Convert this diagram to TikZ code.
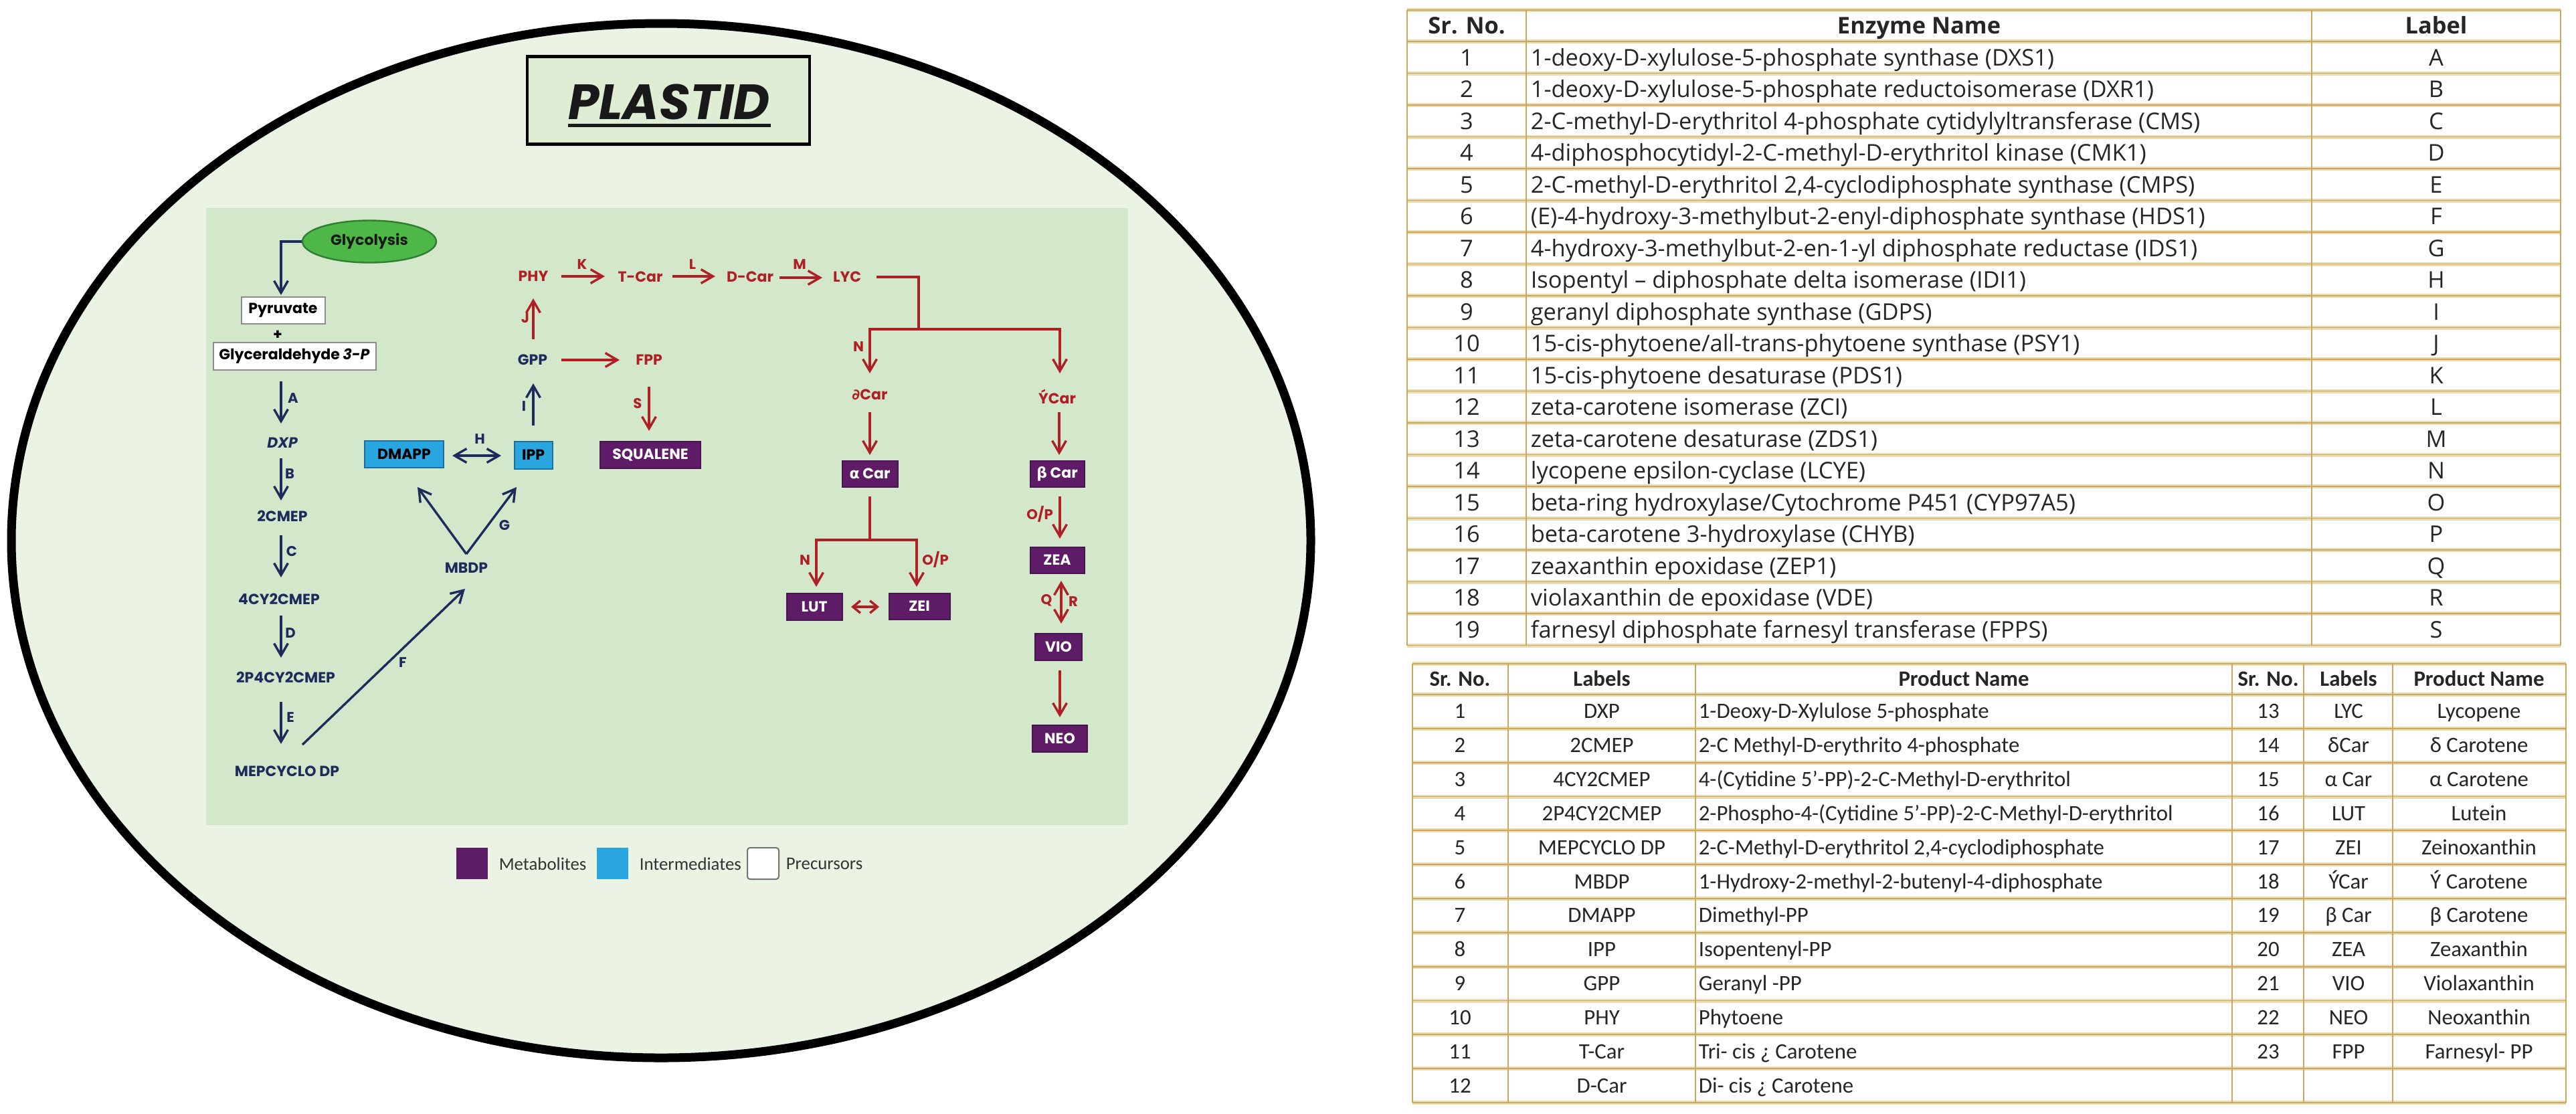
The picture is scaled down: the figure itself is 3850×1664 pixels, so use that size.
\documentclass[tikz,border=0pt]{standalone}
\usepackage{fontspec}
\usepackage{graphicx}
\setmainfont{Carlito}
\newfontfamily\gothic{Poppins}
\newfontfamily\grk{DejaVu Sans}
\newfontfamily\osans{Open Sans}
\usetikzlibrary{arrows.meta,calc,shapes.geometric}
\definecolor{navy}{HTML}{1F2B5C}
\definecolor{dred}{HTML}{B01E26}
\definecolor{purp}{HTML}{5E1C67}
\definecolor{purpd}{HTML}{4A1452}
\definecolor{skyb}{HTML}{29A6DF}
\definecolor{skybd}{HTML}{1D6E9C}
\definecolor{glyg}{HTML}{4DB748}
\definecolor{glygd}{HTML}{2F7F30}
\definecolor{pale}{HTML}{EBF4E4}
\definecolor{innerg}{HTML}{D3E8CA}
\definecolor{boxg}{HTML}{DFEDD5}
\definecolor{gold}{HTML}{C9A95E}
\definecolor{goldl}{HTML}{EADBB2}
\definecolor{tabtxt}{HTML}{262626}
\tikzset{
  dlab/.style={font=\gothic\bfseries\fontsize{5.5}{6.6}\selectfont, inner sep=0pt},
  blab/.style={dlab, text=navy},
  rlab/.style={dlab, text=dred},
  elab/.style={font=\gothic\bfseries\fontsize{5.3}{6.3}\selectfont, inner sep=0pt},
  benz/.style={elab, text=navy},
  renz/.style={elab, text=dred},
  dbox/.style={dlab, minimum height=10pt, line width=0.5pt},
  metab/.style={dbox, fill=purp, draw=purpd, text=white},
  inter/.style={dbox, fill=skyb, draw=skybd, text=black},
  prec/.style={dbox, fill=white, draw=black!45, text=black},
  barrow/.style={draw=navy, line width=0.85pt, -{Straight Barb[length=4.5pt,width=5.2pt]}},
  bdarrow/.style={draw=navy, line width=0.85pt, {Straight Barb[length=4.5pt,width=5.2pt]}-{Straight Barb[length=4.5pt,width=5.2pt]}},
  rarrow/.style={draw=dred, line width=0.85pt, -{Straight Barb[length=4.5pt,width=5.2pt]}},
  rdarrow/.style={draw=dred, line width=0.85pt, {Straight Barb[length=4.5pt,width=5.2pt]}-{Straight Barb[length=4.5pt,width=5.2pt]}},
  rdsmall/.style={draw=dred, line width=0.85pt, {Straight Barb[length=2.8pt,width=4.6pt]}-{Straight Barb[length=2.8pt,width=4.6pt]}},
  rline/.style={draw=dred, line width=0.85pt},
  tabA/.style={font=\osans\fontsize{8.6}{10}\selectfont, text=tabtxt, inner sep=0pt, anchor=base},
  tabAh/.style={tabA, font=\osans\bfseries\fontsize{8.6}{10}\selectfont},
  tabB/.style={font=\fontsize{8.2}{10}\selectfont, text=tabtxt, inner sep=0pt, anchor=base},
  tabBh/.style={tabB, font=\bfseries\fontsize{8.2}{10}\selectfont},
  hlo/.style={line width=1.5pt, draw=goldl},
  hli/.style={line width=0.45pt, draw=gold},
  vrule/.style={line width=0.6pt, draw=gold},
  legtx/.style={font=\fontsize{6.7}{8}\selectfont, text=black!80, inner sep=0pt, anchor=west},
  legsq/.style={minimum width=11.75pt, minimum height=11.75pt, inner sep=0pt},
}
\newcommand\enzrow[3]{%
  \node[tabA] (es#1) at (2192,{50.5+47.5*#1}) {#1};
  \node[tabA, anchor=base west] (en#1) at (2287,{50.5+47.5*#1}) {#2};
  \node[tabA] (el#1) at (3641,{50.5+47.5*#1}) {#3};}
\newcommand\prodrow[7]{%
  \node[tabB] (pa#1) at (2182,{1023.1+50.83*#1}) {#2};
  \node[tabB] (pb#1) at (2394,{1023.1+50.83*#1}) {#3};
  \node[tabB, anchor=base west] (pc#1) at (2538,{1023.1+50.83*#1}) {#4};
  \node[tabB] (pd#1) at (3390,{1023.1+50.83*#1}) {#5};
  \node[tabB] (pe#1) at (3510,{1023.1+50.83*#1}) {#6};
  \node[tabB] (pf#1) at (3705,{1023.1+50.83*#1}) {#7};}
\begin{document}
\begin{tikzpicture}[x=0.25pt,y=-0.25pt]
\useasboundingbox (0,0) rectangle (3850,1664);
\fill[white] (0,0) rectangle (3850,1664);

% ---------- plastid ----------
\draw[line width=3.25pt, fill=pale] (988,808) ellipse [x radius=242.75pt, y radius=193.25pt];
\fill[innerg] (308,311) rectangle (1686,1233);
\node[draw=black, line width=1.2pt, fill=boxg, minimum width=105.5pt, minimum height=32.75pt, inner sep=0pt] (pbox) at (999,150) {};
\node[font=\gothic\bfseries\itshape\fontsize{18.5}{20}\selectfont, inner sep=0pt, anchor=base, text=black!90] (ptxt) at (1000,178) {PLASTID};
\draw[line width=1.25pt, black!90] ($(ptxt.base west)+(0,9)$) -- ($(ptxt.base east)+(0,9)$);

% ---------- nodes ----------
\node[ellipse, draw=glygd, fill=glyg, line width=0.6pt, minimum width=50pt, minimum height=15.75pt, dlab, text=black!90] (gly) at (552,361) {Glycolysis};
\node[prec, minimum width=31.25pt] (pyr) at (423,464) {Pyruvate};
\node[dlab, text=black] (plus) at (415,501) {+};
\node[prec, minimum width=60.75pt, minimum height=10.25pt] (gla) at (440,532) {Glyceraldehyde \textit{3-P}};
\node[blab] (dxp) at (422,662) {\itshape DXP};
\node[blab] (cmep) at (422,771) {2CMEP};
\node[blab] (cy) at (417,895) {4CY2CMEP};
\node[blab] (p4) at (427,1012) {2P4CY2CMEP};
\node[blab] (mep) at (429,1153) {MEPCYCLO DP};
\node[blab] (mbdp) at (697,849) {MBDP};
\node[inter, minimum width=29.5pt] (dmapp) at (604,679) {DMAPP};
\node[inter, minimum width=14.25pt, minimum height=10.25pt] (ipp) at (797,680) {IPP};
\node[blab] (gpp) at (796,538) {GPP};
\node[rlab] (phy) at (797,413) {PHY};
\node[rlab] (tcar) at (957,414) {T-Car};
\node[rlab] (dcar) at (1121,414) {D-Car};
\node[rlab] (lyc) at (1266,414) {LYC};
\node[rlab] (fpp) at (970,538) {FPP};
\node[metab, minimum width=37.5pt] (squal) at (972,680) {SQUALENE};
\node[rlab] (dcarr) at (1300,590) {{\grk ∂}Car};
\node[rlab] (ycar) at (1580,593) {ÝCar};
\node[metab, minimum width=20.75pt, minimum height=9.75pt] (acar) at (1300,708) {{\grk α} Car};
\node[metab, minimum width=20.25pt, minimum height=9.75pt] (bcar) at (1580,708) {{\grk β} Car};
\node[metab, minimum width=20.75pt] (lut) at (1217,907) {LUT};
\node[metab, minimum width=22.75pt, minimum height=9.75pt] (zei) at (1374,906) {ZEI};
\node[metab, minimum width=20.25pt, minimum height=9.75pt] (zea) at (1580,837) {ZEA};
\node[metab, minimum width=17.5pt] (vio) at (1582,967) {VIO};
\node[metab, minimum width=20.5pt] (neo) at (1584,1104) {NEO};

% enzyme letters
\node[benz] (eA) at (438,595) {A};
\node[benz] (eB) at (433,708) {B};
\node[benz] (eC) at (436,824) {C};
\node[benz] (eD) at (434,946) {D};
\node[benz] (eE) at (434,1072) {E};
\node[benz] (eF) at (602,990) {F};
\node[benz] (eG) at (754,785) {G};
\node[benz] (eH) at (717,656) {H};
\node[benz] (eI) at (783,607) {I};
\node[renz] (eJ) at (785,475) {J};
\node[renz] (eK) at (870,395) {K};
\node[renz] (eL) at (1035,395) {L};
\node[renz] (eM) at (1195,395) {M};
\node[renz] (eS) at (953,603) {S};
\node[renz] (eN1) at (1283,518) {N};
\node[renz] (eN2) at (1203,837) {N};
\node[renz] (eOP1) at (1398,836) {O/P};
\node[renz] (eOP2) at (1554,768) {O/P};
\node[renz] (eQ) at (1564,897) {Q};
\node[renz] (eR) at (1604,899) {R};

% ---------- connectors ----------
\draw[barrow] (gly.west) -| ($(pyr.center)+(-3,-23)$);
\draw[barrow] ($(gla.center)+(-20,38)$) -- ($(dxp.center)+(-2,-29)$);
\draw[barrow] ($(dxp.center)+(-2,23)$) -- ($(cmep.center)+(-2,-23)$);
\draw[barrow] ($(cmep.center)+(-2,29)$) -- ($(cy.center)+(3,-32)$);
\draw[barrow] ($(cy.center)+(3,25)$) -- ($(p4.center)+(-7,-29)$);
\draw[barrow] ($(p4.center)+(-7,37)$) -- ($(mep.center)+(-9,-41)$);
\draw[barrow] ($(mep.center)+(23,-40)$) -- ($(mbdp.center)+(-2,31)$);
\coordinate (apex) at ($(mbdp.center)+(0,-21)$);
\draw[barrow] (apex) -- ($(dmapp.center)+(20,49)$);
\draw[barrow] (apex) -- ($(ipp.center)+(-25,48)$);
\draw[bdarrow] ($(dmapp.center)+(72,2)$) -- ($(ipp.center)+(-48,1)$);
\draw[barrow] ($(ipp.center)+(0,-44)$) -- ($(gpp.center)+(1,35)$);
\draw[rarrow] ($(gpp.center)+(1,-31)$) -- ($(phy.center)+(0,33)$);
\draw[rarrow] ($(phy.center)+(42,0)$) -- ($(tcar.center)+(-53,-1)$);
\draw[rarrow] ($(tcar.center)+(48,-1)$) -- ($(dcar.center)+(-52,-1)$);
\draw[rarrow] ($(dcar.center)+(44,1)$) -- ($(lyc.center)+(-37,1)$);
\draw[rarrow] ($(gpp.center)+(43,0)$) -- ($(fpp.center)+(-44,0)$);
\draw[rarrow] ($(fpp.center)+(0,40)$) -- ($(squal.center)+(-2,-36)$);
\coordinate (br) at (1373,492);
\draw[rline] ($(lyc.center)+(44,0)$) -| (br);
\draw[rarrow] (br) -| ($(dcarr.center)+(0,-32)$);
\draw[rarrow] (br) -| ($(ycar.center)+(4,-35)$);
\draw[rarrow] ($(dcarr.center)+(0,26)$) -- ($(acar.center)+(0,-28)$);
\draw[rarrow] ($(ycar.center)+(3,23)$) -- ($(bcar.center)+(3,-28)$);
\coordinate (ab) at (1300,807);
\draw[rline] ($(acar.center)+(0,34)$) -- (ab);
\draw[rarrow] (ab) -| ($(lut.center)+(3,-30)$);
\draw[rarrow] (ab) -| ($(zei.center)+(-4,-29)$);
\draw[rdsmall] ($(lut.center)+(55,0)$) -- ($(zei.center)+(-60,1)$);
\draw[rarrow] ($(bcar.center)+(4,34)$) -- ($(zea.center)+(4,-32)$);
\draw[rdarrow] ($(zea.center)+(6,31)$) -- ($(vio.center)+(4,-35)$);
\draw[rarrow] ($(vio.center)+(2,35)$) -- ($(neo.center)+(0,-32)$);

% ---------- legend ----------
\node[legsq, fill=purp] (lgm) at (705.5,1290.5) {};
\node[legtx] (lgmt) at (745,1291) {Metabolites};
\node[legsq, fill=skyb] (lgi) at (915,1290.5) {};
\node[legtx] (lgit) at (955,1291) {Intermediates};
\node[legsq, fill=white, draw=black!55, rounded corners=1pt, line width=0.5pt] (lgp) at (1140.5,1290.5) {};
\node[legtx] (lgpt) at (1174,1291) {Precursors};

% ---------- table 1 ----------
\draw[hlo] (2103,15) -- (3827,15);
\draw[hli] (2103,15) -- (3827,15);
\foreach \k in {0,...,19} {
  \draw[hlo] (2103,{62+47.5*\k}) -- (3827,{62+47.5*\k});
  \draw[hli] (2103,{62+47.5*\k}) -- (3827,{62+47.5*\k});
}
\foreach \xx in {2103,2281,3455,3827} {\draw[vrule] (\xx,15) -- (\xx,965);}
\node[tabAh] (h1a) at (2192,50.5) {Sr. No.};
\node[tabAh] (h1b) at (2868,50.5) {Enzyme Name};
\node[tabAh] (h1c) at (3641,50.5) {Label};
\enzrow{1}{1-deoxy-D-xylulose-5-phosphate synthase (DXS1)}{A}
\enzrow{2}{1-deoxy-D-xylulose-5-phosphate reductoisomerase (DXR1)}{B}
\enzrow{3}{2-C-methyl-D-erythritol 4-phosphate cytidylyltransferase (CMS)}{C}
\enzrow{4}{4-diphosphocytidyl-2-C-methyl-D-erythritol kinase (CMK1)}{D}
\enzrow{5}{2-C-methyl-D-erythritol 2,4-cyclodiphosphate synthase (CMPS)}{E}
\enzrow{6}{(E)-4-hydroxy-3-methylbut-2-enyl-diphosphate synthase (HDS1)}{F}
\enzrow{7}{4-hydroxy-3-methylbut-2-en-1-yl diphosphate reductase (IDS1)}{G}
\enzrow{8}{Isopentyl – diphosphate delta isomerase (IDI1)}{H}
\enzrow{9}{geranyl diphosphate synthase (GDPS)}{I}
\enzrow{10}{15-cis-phytoene/all-trans-phytoene synthase (PSY1)}{J}
\enzrow{11}{15-cis-phytoene desaturase (PDS1)}{K}
\enzrow{12}{zeta-carotene isomerase (ZCI)}{L}
\enzrow{13}{zeta-carotene desaturase (ZDS1)}{M}
\enzrow{14}{lycopene epsilon-cyclase (LCYE)}{N}
\enzrow{15}{beta-ring hydroxylase/Cytochrome P451 (CYP97A5)}{O}
\enzrow{16}{beta-carotene 3-hydroxylase (CHYB)}{P}
\enzrow{17}{zeaxanthin epoxidase (ZEP1)}{Q}
\enzrow{18}{violaxanthin de epoxidase (VDE)}{R}
\enzrow{19}{farnesyl diphosphate farnesyl transferase (FPPS)}{S}

% ---------- table 2 ----------
\draw[hlo] (2111,992) -- (3835,992);
\draw[hli] (2111,992) -- (3835,992);
\foreach \k in {0,...,12} {
  \draw[hlo] (2111,{1038+50.83*\k}) -- (3835,{1038+50.83*\k});
  \draw[hli] (2111,{1038+50.83*\k}) -- (3835,{1038+50.83*\k});
}
\foreach \xx in {2111,2254,2534,3336,3443,3576,3835} {\draw[vrule] (\xx,992) -- (\xx,1648);}
\node[tabBh] (h2a) at (2182,1025.5) {Sr. No.};
\node[tabBh] (h2b) at (2394,1025.5) {Labels};
\node[tabBh] (h2c) at (2935,1025.5) {Product Name};
\node[tabBh] (h2d) at (3390,1025.5) {Sr. No.};
\node[tabBh] (h2e) at (3510,1025.5) {Labels};
\node[tabBh] (h2f) at (3705,1025.5) {Product Name};
\prodrow{1}{1}{DXP}{1-Deoxy-D-Xylulose 5-phosphate}{13}{LYC}{Lycopene}
\prodrow{2}{2}{2CMEP}{2-C Methyl-D-erythrito 4-phosphate}{14}{δCar}{δ Carotene}
\prodrow{3}{3}{4CY2CMEP}{4-(Cytidine 5'-PP)-2-C-Methyl-D-erythritol}{15}{α Car}{α Carotene}
\prodrow{4}{4}{2P4CY2CMEP}{2-Phospho-4-(Cytidine 5'-PP)-2-C-Methyl-D-erythritol}{16}{LUT}{Lutein}
\prodrow{5}{5}{MEPCYCLO DP}{2-C-Methyl-D-erythritol 2,4-cyclodiphosphate}{17}{ZEI}{Zeinoxanthin}
\prodrow{6}{6}{MBDP}{1-Hydroxy-2-methyl-2-butenyl-4-diphosphate}{18}{ÝCar}{Ý Carotene}
\prodrow{7}{7}{DMAPP}{Dimethyl-PP}{19}{β Car}{β Carotene}
\prodrow{8}{8}{IPP}{Isopentenyl-PP}{20}{ZEA}{Zeaxanthin}
\prodrow{9}{9}{GPP}{Geranyl -PP}{21}{VIO}{Violaxanthin}
\prodrow{10}{10}{PHY}{Phytoene}{22}{NEO}{Neoxanthin}
\prodrow{11}{11}{T-Car}{Tri- cis ¿ Carotene}{23}{FPP}{Farnesyl- PP}
\node[tabB] (pa12) at (2182,{1023.1+50.83*12}) {12};
\node[tabB] (pb12) at (2394,{1023.1+50.83*12}) {D-Car};
\node[tabB, anchor=base west] (pc12) at (2538,{1023.1+50.83*12}) {Di- cis ¿ Carotene};
\end{tikzpicture}
\end{document}
